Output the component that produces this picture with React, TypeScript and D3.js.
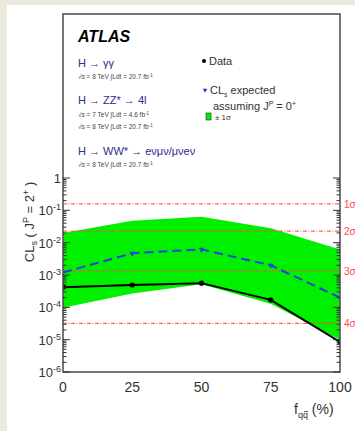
import React from "react";
import * as d3 from "d3";

const fractions = [0, 25, 50, 75, 100];
const observed = [4.2e-4, 4.9e-4, 5.6e-4, 1.7e-4, 8.5e-6];
const expected = [1.2e-3, 4.7e-3, 6.2e-3, 2.0e-3, 2.0e-4];
const bandUpper = [2.0e-2, 4.8e-2, 6.3e-2, 2.8e-2, 6.2e-3];
const bandLower = [9.7e-5, 2.7e-4, 5.2e-4, 1.3e-4, 1.0e-5];
const sigmaLevels = [0.1587, 0.02275, 0.00135, 3.17e-5];
const sigmaLabels = ["1σ", "2σ", "3σ", "4σ"];
const xTicks = [0, 25, 50, 75, 100];
const yDecades = [-6, -5, -4, -3, -2, -1, 0];

const W = 355, H = 431;
const L = 63, R = 340, T = 14, B = 372;
const FONT = "'Liberation Sans', Arial, Helvetica, sans-serif";

export default function App() {
  const x = d3.scaleLinear().domain([0, 100]).range([L, R]);
  const y = d3.scaleLog().domain([1e-6, 1]).range([B, 178]);

  const area = d3.area<number>()
    .x((_, i) => x(fractions[i]))
    .y0((_, i) => y(bandLower[i]))
    .y1((d) => y(d));
  const line = d3.line<number>().x((_, i) => x(fractions[i])).y((d) => y(d));

  const minor: number[] = [];
  for (let e = -6; e < 0; e++) for (let k = 2; k <= 9; k++) minor.push(k * Math.pow(10, e));

  const tri = d3.symbol().type(d3.symbolTriangle).size(14)();

  const blue = "#1f3fd8";
  const dark = "#333";
  const legBlue = "#2d2d8a";
  const small = "#444";
  const red = "#ff4a4a";

  return (
    <svg width={W} height={H} style={{ position: "absolute", left: 0, top: 0, fontFamily: FONT }}>
      <rect x={0} y={0} width={W} height={H} fill="#ece9de" />
      <rect x={7} y={5} width={W - 7} height={H - 5} fill="#ffffff" />

      <defs>
        <clipPath id="plotclip"><rect x={L} y={T} width={R - L} height={B - T} /></clipPath>
      </defs>

      <g clipPath="url(#plotclip)">
        <path d={area(bandUpper) || ""} fill="#00f000" />
        {sigmaLevels.map((s, i) => (
          <line key={i} x1={L} x2={R} y1={y(s)} y2={y(s)} stroke={red} strokeWidth={1.3} strokeDasharray="4,1.5,1,1.5" opacity={0.85} />
        ))}
        <path d={line(expected) || ""} fill="none" stroke={blue} strokeWidth={2} strokeDasharray="9,5" />
        {expected.map((v, i) => (
          <path key={i} d={tri || ""} transform={`translate(${x(fractions[i])},${y(v)}) rotate(180)`} fill={blue} />
        ))}
        <path d={line(observed) || ""} fill="none" stroke="#000" strokeWidth={2} />
        {observed.map((v, i) => (
          <circle key={i} cx={x(fractions[i])} cy={y(v)} r={2.6} fill="#000" />
        ))}
      </g>

      {/* frame */}
      <rect x={L} y={T} width={R - L} height={B - T} fill="none" stroke="#555" strokeWidth={1.6} />

      {/* y ticks */}
      {yDecades.map((e) => {
        const yy = y(Math.pow(10, e));
        return (
          <g key={e}>
            <line x1={L} x2={L + 7} y1={yy} y2={yy} stroke="#333" strokeWidth={1} />
            <line x1={R} x2={R - 7} y1={yy} y2={yy} stroke="#333" strokeWidth={1} />
          </g>
        );
      })}
      {minor.map((v, i) => (
        <g key={i}>
          <line x1={L} x2={L + 3.5} y1={y(v)} y2={y(v)} stroke="#333" strokeWidth={1} />
          <line x1={R} x2={R - 3.5} y1={y(v)} y2={y(v)} stroke="#333" strokeWidth={1} />
        </g>
      ))}

      {/* y tick labels */}
      {yDecades.map((e) => {
        const yy = y(Math.pow(10, e));
        if (e === 0)
          return (
            <text key={e} x={L - 2} y={yy + 5} textAnchor="end" fontSize={13} fill={dark}>1</text>
          );
        return (
          <text key={e} x={L - 2} y={yy + 5} textAnchor="end" fontSize={13} fill={dark}>
            10<tspan dy={-5} fontSize={9}>{e}</tspan>
          </text>
        );
      })}

      {/* x tick labels */}
      {xTicks.map((t) => (
        <text key={t} x={x(t)} y={392} textAnchor="middle" fontSize={14} fill={dark}>{t}</text>
      ))}

      {/* sigma labels */}
      {sigmaLevels.map((s, i) => (
        <text key={i} x={344} y={y(s) + 4} fontSize={10} fill={red}>{sigmaLabels[i]}</text>
      ))}

      {/* axis titles */}
      <text transform="translate(34,222) rotate(-90)" textAnchor="middle" fontSize={13} fill={dark}>
        CL<tspan dy={3} fontSize={9}>s</tspan><tspan dy={-3}> ( J</tspan>
        <tspan dy={-5} fontSize={9}>P</tspan><tspan dy={5}> = 2</tspan>
        <tspan dy={-5} fontSize={9}>+</tspan><tspan dy={5}> )</tspan>
      </text>
      <text x={294} y={414} fontSize={14} fill={dark}>
        f<tspan dy={4} fontSize={9}>qq</tspan><tspan dy={-4}> (%)</tspan>
      </text>
      <line x1={304} x2={308} y1={411.5} y2={411.5} stroke={dark} strokeWidth={0.8} />

      {/* ATLAS label block */}
      <text x={78} y={42} fontSize={16} fontWeight="bold" fontStyle="italic" fill="#000">ATLAS</text>
      <text x={78} y={67} fontSize={11} fill={legBlue}>H → γγ</text>
      <text x={78} y={79} fontSize={6.5} fill={small}>√s = 8 TeV ∫Ldt = 20.7 fb<tspan dy={-2.5} fontSize={4.5}>-1</tspan></text>
      <text x={78} y={104} fontSize={11} fill={legBlue}>H → ZZ* → 4l</text>
      <text x={78} y={117} fontSize={6.5} fill={small}>√s = 7 TeV ∫Ldt = 4.6 fb<tspan dy={-2.5} fontSize={4.5}>-1</tspan></text>
      <text x={78} y={129} fontSize={6.5} fill={small}>√s = 8 TeV ∫Ldt = 20.7 fb<tspan dy={-2.5} fontSize={4.5}>-1</tspan></text>
      <text x={78} y={155} fontSize={11} fill={legBlue}>H → WW* → eνμν/μνeν</text>
      <text x={78} y={167} fontSize={6.5} fill={small}>√s = 8 TeV ∫Ldt = 20.7 fb<tspan dy={-2.5} fontSize={4.5}>-1</tspan></text>

      {/* legend */}
      <circle cx={204} cy={61} r={2} fill="#000" />
      <text x={209} y={65} fontSize={11} fill={dark}>Data</text>
      <path d={tri || ""} transform={`translate(205,90) rotate(180) scale(0.8)`} fill={blue} />
      <text x={210} y={94} fontSize={11} fill={dark}>
        CL<tspan dy={3} fontSize={7}>s</tspan><tspan dy={-3}> expected</tspan>
      </text>
      <text x={213} y={110} fontSize={11} fill={dark}>
        assuming J<tspan dy={-4} fontSize={7}>P</tspan><tspan dy={4}> = 0</tspan><tspan dy={-4} fontSize={7}>+</tspan>
      </text>
      <rect x={206} y={113} width={5} height={7} fill="#00f000" stroke="#222" strokeWidth={0.6} />
      <text x={215} y={120} fontSize={8} fill={dark}>± 1σ</text>
    </svg>
  );
}
